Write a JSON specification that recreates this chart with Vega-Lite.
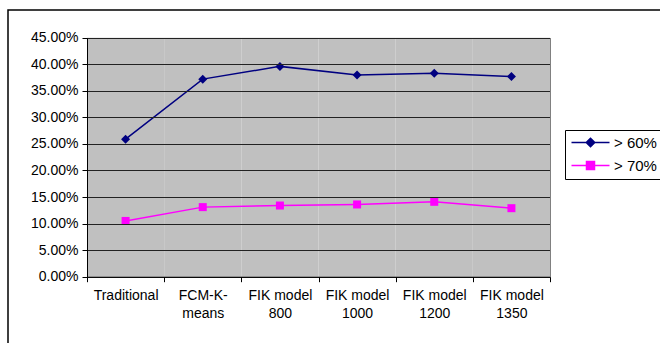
{
  "$schema": "https://vega.github.io/schema/vega-lite/v6.json",
  "autosize": {"type": "none"},
  "padding": {"left": 8, "top": 10, "right": 0, "bottom": 0},
  "width": 660,
  "height": 340,
  "background": "white",
  "config": {
    "font": "Liberation Sans",
    "view": {"stroke": "black", "strokeWidth": 1.5},
    "axis": {"labelFont": "Liberation Sans", "labelFontSize": 14, "labelColor": "black"},
    "legend": {"labelFont": "Liberation Sans"}
  },
  "datasets": {
    "results": [
      {"method": "Traditional", "series": "> 60%", "share": 0.259},
      {"method": "FCM-K-means", "series": "> 60%", "share": 0.372},
      {"method": "FIK model 800", "series": "> 60%", "share": 0.396},
      {"method": "FIK model 1000", "series": "> 60%", "share": 0.380},
      {"method": "FIK model 1200", "series": "> 60%", "share": 0.383},
      {"method": "FIK model 1350", "series": "> 60%", "share": 0.377},
      {"method": "Traditional", "series": "> 70%", "share": 0.105},
      {"method": "FCM-K-means", "series": "> 70%", "share": 0.131},
      {"method": "FIK model 800", "series": "> 70%", "share": 0.134},
      {"method": "FIK model 1000", "series": "> 70%", "share": 0.136},
      {"method": "FIK model 1200", "series": "> 70%", "share": 0.141},
      {"method": "FIK model 1350", "series": "> 70%", "share": 0.129}
    ],
    "methods": [
      {"method": "Traditional"},
      {"method": "FCM-K-means"},
      {"method": "FIK model 800"},
      {"method": "FIK model 1000"},
      {"method": "FIK model 1200"},
      {"method": "FIK model 1350"}
    ]
  },
  "encoding": {
    "x": {
      "field": "method",
      "type": "nominal",
      "sort": ["Traditional", "FCM-K-means", "FIK model 800", "FIK model 1000", "FIK model 1200", "FIK model 1350"],
      "scale": {"range": [79, 542], "paddingInner": 0, "paddingOuter": 0},
      "axis": {
        "orient": "bottom",
        "offset": -73.3,
        "title": null,
        "labelAngle": 0,
        "tickBand": "extent",
        "tickSize": 5,
        "tickColor": "black",
        "domainColor": "black",
        "labelPadding": 7,
        "labelLineHeight": 18,
        "labelBaseline": "top",
        "grid": false,
        "zindex": 1,
        "labelExpr": "datum.label == 'FCM-K-means' ? ['FCM-K-', 'means'] : indexof(datum.label, 'FIK model ') == 0 ? ['FIK model', replace(datum.label, 'FIK model ', '')] : datum.label"
      }
    }
  },
  "layer": [
    {
      "data": {"name": "methods"},
      "mark": {"type": "rect", "color": "#C0C0C0"},
      "encoding": {
        "y": {
          "datum": 0,
          "type": "quantitative",
          "scale": {"domain": [0, 0.45], "range": [266.7, 27.7], "nice": false, "zero": true},
          "axis": {
            "orient": "left",
            "offset": -79,
            "title": null,
            "format": ".2%",
            "values": [0, 0.05, 0.1, 0.15, 0.2, 0.25, 0.3, 0.35, 0.4, 0.45],
            "grid": true,
            "gridColor": "#222222",
            "gridOpacity": 1,
            "zindex": 1,
            "tickSize": 5,
            "tickColor": "black",
            "domainColor": "black",
            "labelPadding": 4
          }
        },
        "y2": {"datum": 0.45}
      }
    },
    {
      "data": {"name": "methods"},
      "mark": {"type": "rect", "opacity": 0},
      "encoding": {
        "y": {
          "datum": 0,
          "type": "quantitative",
          "axis": {
            "orient": "right",
            "offset": -118,
            "title": null,
            "labels": false,
            "ticks": false,
            "grid": false,
            "zindex": 1,
            "domainColor": "#808080"
          }
        },
        "y2": {"datum": 0.45}
      }
    },
    {
      "data": {"name": "results"},
      "mark": {"type": "line", "strokeWidth": 1.5},
      "encoding": {
        "y": {"field": "share", "type": "quantitative", "axis": null},
        "color": {
          "field": "series",
          "type": "nominal",
          "scale": {"domain": ["> 60%", "> 70%"], "range": ["#000080", "#FF00FF"]},
          "legend": {
            "title": null,
            "orient": "none",
            "legendX": 557,
            "legendY": 120,
            "strokeColor": "black",
            "fillColor": "white",
            "padding": 5,
            "labelFontSize": 15,
            "labelColor": "black",
            "symbolSize": 100,
            "symbolOffset": 13,
            "labelOffset": 16,
            "rowPadding": 7,
            "encode": {
              "symbols": {
                "update": {
                  "shape": {"signal": "datum.value == '> 60%' ? 'M-3.8,0H3.8M0,-0.85L0.85,0L0,0.85L-0.85,0Z' : 'M-3.8,0H3.8M-0.8,-0.8H0.8V0.8H-0.8Z'"},
                  "fill": {"signal": "scale('color', datum.value)"},
                  "stroke": {"signal": "scale('color', datum.value)"},
                  "strokeWidth": {"value": 1.5},
                  "opacity": {"value": 1}
                }
              }
            }
          }
        }
      }
    },
    {
      "data": {"name": "results"},
      "transform": [{"filter": "datum.series == '> 60%'"}],
      "mark": {"type": "point", "shape": "diamond", "filled": true, "size": 81, "opacity": 1},
      "encoding": {
        "y": {"field": "share", "type": "quantitative", "axis": null},
        "color": {"field": "series", "type": "nominal"}
      }
    },
    {
      "data": {"name": "results"},
      "transform": [{"filter": "datum.series == '> 70%'"}],
      "mark": {"type": "point", "shape": "square", "filled": true, "size": 64, "opacity": 1},
      "encoding": {
        "y": {"field": "share", "type": "quantitative", "axis": null},
        "color": {"field": "series", "type": "nominal"}
      }
    }
  ],
  "resolve": {"axis": {"y": "independent"}}
}
